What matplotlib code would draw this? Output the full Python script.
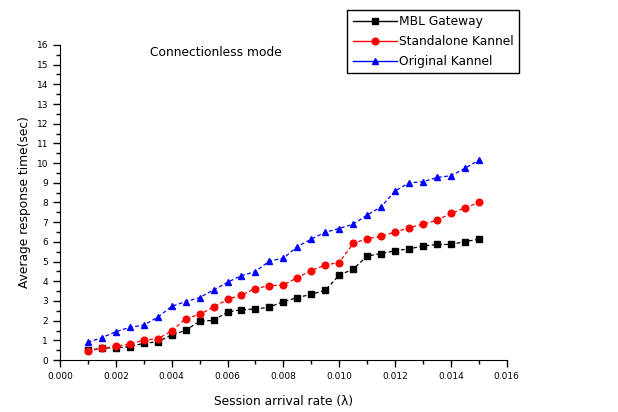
import numpy as np
import matplotlib
matplotlib.use('Agg')
import matplotlib.pyplot as plt
from matplotlib.ticker import MultipleLocator, FormatStrFormatter

# session arrival rate, 0.001 .. 0.015 in steps of 0.0005
rate = [0.001, 0.0015, 0.002, 0.0025, 0.003, 0.0035, 0.004, 0.0045, 0.005, 0.0055,
        0.006, 0.0065, 0.007, 0.0075, 0.008, 0.0085, 0.009, 0.0095, 0.010, 0.0105,
        0.011, 0.0115, 0.012, 0.0125, 0.013, 0.0135, 0.014, 0.0145, 0.015]

mbl_gateway = [0.50, 0.60, 0.63, 0.68, 0.85, 0.93, 1.27, 1.51, 1.97, 2.02,
               2.44, 2.56, 2.59, 2.69, 2.97, 3.17, 3.34, 3.54, 4.31, 4.62,
               5.28, 5.41, 5.55, 5.65, 5.79, 5.87, 5.87, 6.02, 6.13]
standalone_kannel = [0.46, 0.59, 0.71, 0.80, 1.02, 1.08, 1.47, 2.10, 2.32, 2.69,
                     3.08, 3.30, 3.63, 3.78, 3.81, 4.19, 4.54, 4.83, 4.95, 5.92,
                     6.16, 6.28, 6.50, 6.72, 6.90, 7.09, 7.45, 7.72, 8.00]
original_kannel = [0.90, 1.14, 1.44, 1.66, 1.78, 2.17, 2.73, 2.97, 3.17, 3.56,
                   3.95, 4.29, 4.49, 5.03, 5.17, 5.76, 6.14, 6.49, 6.68, 6.90,
                   7.36, 7.78, 8.58, 9.00, 9.05, 9.27, 9.36, 9.73, 10.15]

series = [
    ('MBL Gateway', mbl_gateway, 'black', 's'),
    ('Standalone Kannel', standalone_kannel, 'red', 'o'),
    ('Original Kannel', original_kannel, 'blue', '^'),
]

plt.rcParams['font.family'] = ['DejaVu Sans']

fig = plt.figure(figsize=(6.18, 4.12), dpi=100)
ax = fig.add_axes([0.097, 0.126, 0.723, 0.765])

for label, vals, color, marker in series:
    ax.plot(rate, vals, color=color, marker=marker, markersize=4.8,
            linestyle=(0, (3, 2)), linewidth=0.9)

# legend uses solid lines like the original
handles = [plt.Line2D([], [], color=c, marker=m, markersize=4.8, linewidth=1.0)
           for _, _, c, m in series]
fig.legend(handles, [s[0] for s in series], loc='upper left',
           bbox_to_anchor=(347 / 618, 1 - 10 / 412), fancybox=False,
           edgecolor='black', fontsize=8.8, handlelength=3.6,
           borderpad=0.45, labelspacing=0.55, handletextpad=0.2,
           borderaxespad=0, framealpha=1)

ax.set_xlim(0.0, 0.016)
ax.set_ylim(0, 16)
ax.xaxis.set_major_locator(MultipleLocator(0.002))
ax.xaxis.set_minor_locator(MultipleLocator(0.001))
ax.xaxis.set_major_formatter(FormatStrFormatter('%.3f'))
ax.yaxis.set_major_locator(MultipleLocator(1))
ax.yaxis.set_minor_locator(MultipleLocator(0.5))

ax.spines['top'].set_visible(False)
ax.spines['right'].set_visible(False)
ax.tick_params(which='major', direction='out', length=5, width=1, labelsize=6.5)
ax.tick_params(which='minor', direction='out', length=3, width=1)

ax.set_xlabel('Session arrival rate (λ)', fontsize=8.8, labelpad=10)
ax.set_ylabel('Average response time(sec)', fontsize=8.8, labelpad=4)
ax.text(0.35, 0.975, 'Connectionless mode', transform=ax.transAxes,
        ha='center', va='center', fontsize=8.8)

fig.savefig('out.png', dpi=100)
